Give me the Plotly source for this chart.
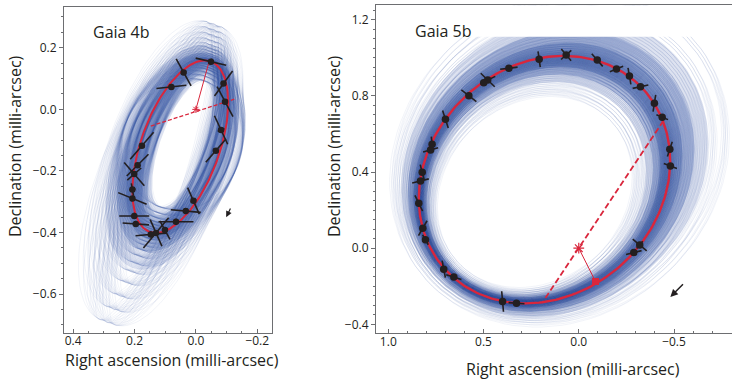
import numpy as np
import plotly.graph_objects as go

# ================= DATA =================
# ---- Gaia 4b : astrometric epochs (mas) ----
ra_4b = [-0.049, 0.040, 0.080, -0.090, -0.095, -0.082, -0.065, 0.008, 0.033, 0.065,
         0.101, 0.130, 0.147, 0.196, 0.201, 0.207, 0.207, 0.201, 0.190, 0.176]
dec_4b = [0.155, 0.120, 0.073, 0.084, 0.025, -0.067, -0.134, -0.297, -0.330, -0.365,
          -0.392, -0.401, -0.406, -0.372, -0.346, -0.289, -0.260, -0.210, -0.181, -0.118]
err_ang_4b = [-13, -61, 6, 54, -62, -65, 49, -66, -5, 0, -61, 50, 5, -4, 0, -22, -80, -49, 45, 49]
err_len_4b = [0.051, 0.050, 0.049, 0.050, 0.055, 0.051, 0.050, 0.047, 0.049, 0.057,
              0.034, 0.064, 0.050, 0.043, 0.049, 0.050, 0.020, 0.050, 0.050, 0.058]
err2_ang_4b = [77, 29, -84, -36, 28, 25, -41, 24, 85, 90, 29, -66, -85, 86, 90, 68, 10, 41, -45, -41]
err2_len_4b = [0.010, 0.010, 0.010, 0.010, 0.010, 0.012, 0.010, 0.010, 0.010, 0.010,
               0.010, 0.047, 0.010, 0.010, 0.010, 0.010, 0.010, 0.030, 0.010, 0.010]

# best-fit orbit 4b: centre RA, centre Dec, semi-axes, position angle (deg)
orbit_4b = [0.051, -0.121, 0.294, 0.128, 109.8]
# posterior orbit samples 4b (scale factors of the semi-axes, rotation offsets)
samp_a_4b = [0.74, 0.80, 0.85, 0.89, 0.92, 0.95, 0.97, 0.99, 1.01, 1.03, 1.05,
             1.08, 1.11, 1.15, 1.20, 1.26, 1.33, 1.42, 1.53, 1.64, 1.75]
samp_b_4b = [0.62, 0.80, 0.97, 1.12, 1.30, 1.52]
samp_rot_4b = [-3, 0, 3]
samp_shift_4b = [0.085, -0.115]
# posterior density bands 4b: (inner a, inner b, outer a, outer b, opacity)
band_in_a_4b = [0.74, 0.82, 0.89]
band_in_b_4b = [0.55, 0.62, 0.75]
band_out_a_4b = [1.30, 1.15, 1.06]
band_out_b_4b = [1.45, 1.30, 1.12]
band_op_4b = [0.18, 0.28, 0.30]
# node line, periastron line
node_ra_4b = [0.147, -0.125]
node_dec_4b = [-0.054, 0.033]
peri_ra_4b = [0.0, -0.043]
peri_dec_4b = [0.0, 0.155]
arrow_4b = [-0.0988, -0.350, -0.115, -0.317]

# ---- Gaia 5b ----
ra_5b = [0.208, 0.066, -0.097, -0.198, -0.266, -0.324, -0.397, -0.438, -0.478, -0.481,
         -0.320, -0.289, 0.327, 0.400, 0.656, 0.709, 0.805, 0.819, 0.840, 0.831,
         0.822, 0.778, 0.770, 0.700, 0.577, 0.478, 0.499, 0.367]
dec_5b = [0.992, 1.015, 0.988, 0.941, 0.904, 0.848, 0.761, 0.688, 0.520, 0.432,
          0.017, -0.023, -0.289, -0.280, -0.152, -0.110, 0.044, 0.105, 0.236, 0.353,
          0.399, 0.516, 0.546, 0.677, 0.800, 0.883, 0.869, 0.945]
err_ang_5b = [98, -50, -49, 23, -80, 12, 81, -23, 72, -21, -40, 14, -4, -85, -18, -79, -60, 60,
              -64, 14, -75, 16, -84, -72, -38, -44, 0, 7]
err_len_5b = [0.042, 0.040, 0.044, 0.038, 0.044, 0.042, 0.044, 0.033, 0.041, 0.037,
              0.048, 0.042, 0.042, 0.054, 0.042, 0.045, 0.030, 0.045, 0.046, 0.045,
              0.041, 0.041, 0.040, 0.048, 0.050, 0.051, 0.0, 0.046]
err2_ang_5b = [8, 42, 41, -67, 10, -78, -9, 67, -18, 69, 50, -76, 86, 5, 72, 11, 30, -30,
               26, -76, 15, -74, 6, 18, 52, 26, 0, -83]
err2_len_5b = [0.012, 0.036, 0.010, 0.012, 0.010, 0.010, 0.012, 0.010, 0.010, 0.010,
               0.025, 0.010, 0.010, 0.010, 0.010, 0.010, 0.010, 0.010, 0.010, 0.010,
               0.010, 0.010, 0.010, 0.010, 0.010, 0.044, 0.0, 0.010]

orbit_5b = [0.18, 0.36, 0.703, 0.603, -42.1]
samp_s_5b = [0.80, 0.83, 0.86, 0.88, 0.90, 0.915, 0.93, 0.94, 0.95, 0.955, 0.96, 0.965,
             0.97, 0.975, 0.98, 0.985, 0.99, 0.995, 1.0, 1.005, 1.01, 1.015, 1.02, 1.03,
             1.04, 1.05, 1.06, 1.075, 1.09, 1.11, 1.13, 1.16, 1.20, 1.25, 1.32]
samp_q_5b = [0.97, 1.0, 1.03]
samp_jit_ra_5b = [0.0, 0.012, -0.010]
samp_jit_dec_5b = [0.0, -0.010, 0.012]
samp_shift_5b = [-0.25, 0.33]
band_in_5b = [0.86, 0.90, 0.94]
band_out_5b = [1.22, 1.14, 1.07]
band_op_5b = [0.18, 0.32, 0.35]
node_ra_5b = [0.175, -0.447]
node_dec_5b = [-0.262, 0.673]
peri_ra_5b = [0.0, -0.088]
peri_dec_5b = [0.0, -0.175]
clip_dec_5b = 1.11
arrow_5b = [-0.481, -0.256, -0.555, -0.182]

# ================= HELPERS =================
BLUE = "rgba(55,84,160,0.09)"
BAND = "rgba(66,96,170,{})"
RED = "#d9263c"
INK = "#231f20"
AX = "#6d6e71"


def ellipse(cx, cy, a, b, th_deg, n=110):
    t = np.linspace(0, 2 * np.pi, n)
    th = np.radians(th_deg)
    x = cx + a * np.cos(th) * np.cos(t) - b * np.sin(th) * np.sin(t)
    y = cy + a * np.sin(th) * np.cos(t) + b * np.cos(th) * np.sin(t)
    return np.round(x, 4), np.round(y, 4)


def sample_4b(sa, sb, dr=0.0, n=110):
    cx, cy, a0, b0, th0 = orbit_4b
    k = (sa - 1) if sa > 1 else 0.3 * (sa - 1)
    return ellipse(cx + k * samp_shift_4b[0], cy + k * samp_shift_4b[1], a0 * sa, b0 * sb, th0 + dr, n)


def sample_5b(s, q=1.0, jx=0.0, jy=0.0, n=110):
    cx, cy, a0, b0, th0 = orbit_5b
    return ellipse(cx + (s - 1) * samp_shift_5b[0] + jx, cy + (s - 1) * samp_shift_5b[1] + jy,
                   a0 * s, b0 * s * q, th0, n)


def band_trace(outer, inner, op, xa, ya):
    xo, yo = outer
    xi, yi = inner
    x = list(xo) + list(xi[::-1])
    y = list(yo) + list(yi[::-1])
    return go.Scatter(x=x, y=y, mode="lines", fill="toself", fillcolor=BAND.format(op),
                      line=dict(width=0), hoverinfo="skip", xaxis=xa, yaxis=ya)


def bars(ra, dec, ang, ln):
    xs, ys = [], []
    for r, d, p, l in zip(ra, dec, ang, ln):
        if l <= 0:
            continue
        pr = np.radians(p)
        dx, dy = -l * np.cos(pr), l * np.sin(pr)
        xs += [r - dx, r + dx, None]
        ys += [d - dy, d + dy, None]
    return xs, ys


fig = go.Figure()

# ---- Gaia 4b ----
for ia, ib, oa, ob, op in zip(band_in_a_4b, band_in_b_4b, band_out_a_4b, band_out_b_4b, band_op_4b):
    fig.add_trace(band_trace(sample_4b(oa, ob, n=200), sample_4b(ia, ib, n=200), op, "x", "y"))
for sa in samp_a_4b:
    for sb in samp_b_4b:
        for dr in samp_rot_4b:
            x, y = sample_4b(sa, sb, dr)
            fig.add_trace(go.Scatter(x=x, y=y, mode="lines", line=dict(color=BLUE, width=0.7),
                                     hoverinfo="skip", xaxis="x", yaxis="y"))
x, y = ellipse(*orbit_4b, n=200)
fig.add_trace(go.Scatter(x=x, y=y, mode="lines", line=dict(color=RED, width=2), xaxis="x", yaxis="y"))
fig.add_trace(go.Scatter(x=node_ra_4b, y=node_dec_4b, mode="lines",
                         line=dict(color=RED, width=1.3, dash="4px,2px"), xaxis="x", yaxis="y"))
fig.add_trace(go.Scatter(x=peri_ra_4b, y=peri_dec_4b, mode="lines",
                         line=dict(color=RED, width=1), xaxis="x", yaxis="y"))
fig.add_trace(go.Scatter(x=[0], y=[0], mode="markers",
                         marker=dict(symbol="asterisk-open", size=6, color=RED, line=dict(color=RED, width=1)),
                         xaxis="x", yaxis="y"))
for ang, ln in ((err_ang_4b, err_len_4b), (err2_ang_4b, err2_len_4b)):
    bx, by = bars(ra_4b, dec_4b, ang, ln)
    fig.add_trace(go.Scatter(x=bx, y=by, mode="lines", line=dict(color=INK, width=1.6),
                             xaxis="x", yaxis="y"))
fig.add_trace(go.Scatter(x=ra_4b, y=dec_4b, mode="markers",
                         marker=dict(size=6.5, color=INK), xaxis="x", yaxis="y"))

# ---- Gaia 5b ----
for si, so, op in zip(band_in_5b, band_out_5b, band_op_5b):
    fig.add_trace(band_trace(sample_5b(so, n=240), sample_5b(si, n=240), op, "x2", "y2"))
for s in samp_s_5b:
    for q in samp_q_5b:
        for jx, jy in zip(samp_jit_ra_5b, samp_jit_dec_5b):
            x, y = sample_5b(s, q, jx, jy)
            fig.add_trace(go.Scatter(x=x, y=y, mode="lines", line=dict(color=BLUE, width=0.7),
                                     hoverinfo="skip", xaxis="x2", yaxis="y2"))
x, y = ellipse(*orbit_5b, n=240)
fig.add_trace(go.Scatter(x=x, y=y, mode="lines", line=dict(color=RED, width=2.4), xaxis="x2", yaxis="y2"))
fig.add_trace(go.Scatter(x=node_ra_5b, y=node_dec_5b, mode="lines",
                         line=dict(color=RED, width=1.8, dash="6px,3px"), xaxis="x2", yaxis="y2"))
fig.add_trace(go.Scatter(x=peri_ra_5b, y=peri_dec_5b, mode="lines",
                         line=dict(color=RED, width=1), xaxis="x2", yaxis="y2"))
fig.add_trace(go.Scatter(x=[0], y=[0], mode="markers",
                         marker=dict(symbol="asterisk-open", size=9, color=RED, line=dict(color=RED, width=1.2)),
                         xaxis="x2", yaxis="y2"))
fig.add_trace(go.Scatter(x=[peri_ra_5b[1]], y=[peri_dec_5b[1]], mode="markers",
                         marker=dict(symbol="square", size=7, color=RED), xaxis="x2", yaxis="y2"))
for ang, ln in ((err_ang_5b, err_len_5b), (err2_ang_5b, err2_len_5b)):
    bx, by = bars(ra_5b, dec_5b, ang, ln)
    fig.add_trace(go.Scatter(x=bx, y=by, mode="lines", line=dict(color=INK, width=1.6),
                             xaxis="x2", yaxis="y2"))
fig.add_trace(go.Scatter(x=ra_5b, y=dec_5b, mode="markers",
                         marker=dict(size=7.5, color=INK), xaxis="x2", yaxis="y2"))

# ================= LAYOUT =================
W, H = 732, 379
tickfont = dict(family="Open Sans", size=12, color=INK)


def xax(dom, rng, dtick, minor):
    return dict(domain=dom, range=rng, dtick=dtick, tick0=0, tickformat=".1f",
                ticks="inside", ticklen=4, tickcolor=AX, showline=True, linecolor=AX,
                linewidth=1, showgrid=False, zeroline=False, tickfont=tickfont,
                ticklabelstandoff=-3,
                minor=dict(dtick=minor, tick0=0, ticks="inside", ticklen=2, tickcolor=AX, showgrid=False))


def yax(dom, rng, dtick, minor, anchor):
    return dict(domain=dom, range=rng, dtick=dtick, tick0=0, tickformat=".1f", anchor=anchor,
                ticks="outside", ticklen=4, tickcolor=AX, showline=True, linecolor=AX,
                linewidth=1, showgrid=False, zeroline=False, tickfont=tickfont,
                minor=dict(dtick=minor, tick0=0, ticks="outside", ticklen=2, tickcolor=AX, showgrid=False))


xa1 = xax([64 / W, 272.3 / W], [0.430, -0.249], 0.2, 0.05)
xa1.update(mirror=True, anchor="y")
ya1 = yax([1 - 333 / H, 1 - 6.5 / H], [-0.726, 0.334], 0.2, 0.05, "x")
ya1.update(mirror=True)
xa2 = xax([376 / W, 1.0], [1.0646, -0.8045], 0.5, 0.1)
xa2.update(mirror=True, anchor="y2")
ya2 = yax([1 - 333.3 / H, 1 - 5 / H], [-0.447, 1.277], 0.4, 0.05, "x2")

title_font = dict(family="Open Sans", size=16, color=INK)
ann = [
    dict(text="Gaia 4b", x=91 / W, y=1 - 31.7 / H, xref="paper", yref="paper", xanchor="left",
         yanchor="middle", showarrow=False, font=dict(family="Open Sans", size=16, color=INK)),
    dict(text="Gaia 5b", x=413 / W, y=1 - 30.7 / H, xref="paper", yref="paper", xanchor="left",
         yanchor="middle", showarrow=False, font=dict(family="Open Sans", size=16, color=INK)),
    dict(text="Right ascension (milli-arcsec)", x=172 / W, y=1 - 360 / H, xref="paper", yref="paper",
         xanchor="center", yanchor="middle", showarrow=False, font=title_font),
    dict(text="Right ascension (milli-arcsec)", x=573 / W, y=1 - 368.5 / H, xref="paper", yref="paper",
         xanchor="center", yanchor="middle", showarrow=False, font=title_font),
    dict(text="Declination (milli-arcsec)", x=15 / W, y=1 - 146 / H, xref="paper", yref="paper",
         xanchor="center", yanchor="middle", textangle=-90, showarrow=False, font=title_font),
    dict(text="Declination (milli-arcsec)", x=334 / W, y=1 - 146 / H, xref="paper", yref="paper",
         xanchor="center", yanchor="middle", textangle=-90, showarrow=False, font=title_font),
    dict(x=arrow_4b[0], y=arrow_4b[1], ax=arrow_4b[2], ay=arrow_4b[3], xref="x", yref="y",
         axref="x", ayref="y", showarrow=True, arrowhead=2, arrowsize=1, arrowwidth=1.2,
         arrowcolor=INK, text=""),
    dict(x=arrow_5b[0], y=arrow_5b[1], ax=arrow_5b[2], ay=arrow_5b[3], xref="x2", yref="y2",
         axref="x2", ayref="y2", showarrow=True, arrowhead=2, arrowsize=1, arrowwidth=1.5,
         arrowcolor=INK, text=""),
]

shapes = [dict(type="rect", xref="x2", yref="y2", x0=1.06, x1=-0.80, y0=clip_dec_5b, y1=1.272,
               fillcolor="white", line=dict(width=0), layer="above")]

fig.update_layout(width=W, height=H, margin=dict(l=0, r=0, t=0, b=0),
                  paper_bgcolor="white", plot_bgcolor="white", showlegend=False,
                  xaxis=xa1, yaxis=ya1, xaxis2=xa2, yaxis2=ya2,
                  annotations=ann, shapes=shapes)
fig.write_html("out.html")
